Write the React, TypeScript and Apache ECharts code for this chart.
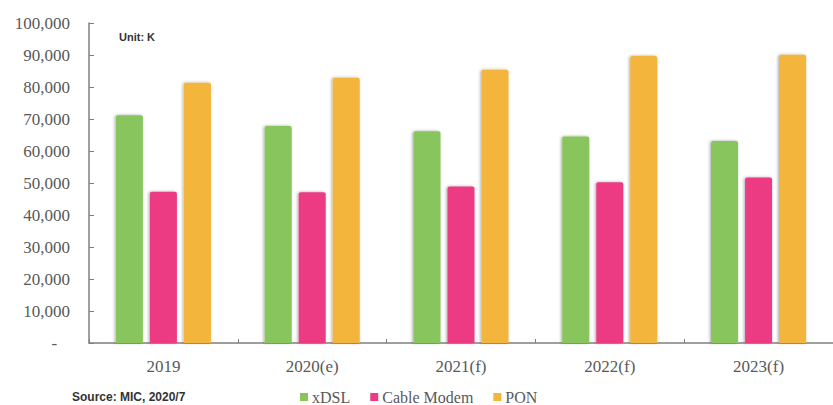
import React, { useEffect, useRef } from "react";
import * as echarts from "echarts";

const categories = ["2019", "2020(e)", "2021(f)", "2022(f)", "2023(f)"];
const xdsl = [71200, 67800, 66200, 64500, 63100];
const cableModem = [47300, 47100, 48900, 50200, 51700];
const pon = [81300, 82900, 85400, 89700, 90100];
const seriesNames = ["xDSL", "Cable Modem", "PON"];
const colors = ["#88C55B", "#EC3B82", "#F3B53A"];

export default function App() {
  const ref = useRef<HTMLDivElement>(null);
  useEffect(() => {
    document.body.style.margin = "0";
    const chart = echarts.init(ref.current!, null, { renderer: "svg" });
    const serif = "'Liberation Serif', 'Times New Roman', serif";
    const barStyle = (c: string) => ({
      color: c,
      borderRadius: [2, 2, 0, 0],
      shadowColor: "rgba(0,0,0,0.35)",
      shadowBlur: 3,
      shadowOffsetX: -1,
    });
    const datasets = [xdsl, cableModem, pon];
    chart.setOption({
      animation: false,
      backgroundColor: "#ffffff",
      grid: { left: 89, top: 23, width: 753, height: 320 },
      legend: {
        left: 300,
        top: 389,
        padding: 0,
        itemWidth: 8,
        itemHeight: 8,
        itemGap: 20,
        icon: "rect",
        data: seriesNames,
        textStyle: {
          fontFamily: serif,
          fontSize: 16,
          lineHeight: 14,
          color: "#595959",
          padding: [0, 0, 0, -1],
        },
      },
      xAxis: {
        type: "category",
        data: categories,
        axisLine: { lineStyle: { color: "#7f7f7f", width: 1.5 } },
        axisTick: { show: true, inside: true, length: 4, lineStyle: { color: "#7f7f7f" } },
        axisLabel: { fontFamily: serif, fontSize: 17, color: "#595959", margin: 15 },
      },
      yAxis: {
        type: "value",
        min: 0,
        max: 100000,
        interval: 10000,
        splitLine: { show: false },
        axisLine: { show: true, lineStyle: { color: "#7f7f7f", width: 1.5 } },
        axisTick: { show: true, inside: true, length: 5, lineStyle: { color: "#7f7f7f" } },
        axisLabel: {
          fontFamily: serif,
          fontSize: 17,
          color: "#595959",
          margin: 19,
          formatter: (v: number) =>
            v === 0 ? "-\u00a0\u00a0\u00a0" : v.toLocaleString("en-US"),
        },
      },
      series: seriesNames.map((name, i) => ({
        name,
        type: "bar",
        data: datasets[i],
        barWidth: 27,
        barGap: "26%",
        itemStyle: barStyle(colors[i]),
      })),
      graphic: [
        {
          type: "text",
          left: 119,
          top: 31,
          style: {
            text: "Unit: K",
            font: "bold 11px 'Liberation Sans', Arial, sans-serif",
            fill: "#333333",
          },
        },
        {
          type: "text",
          left: 72,
          top: 391,
          style: {
            text: "Source: MIC, 2020/7",
            font: "bold 12px 'Liberation Sans', Arial, sans-serif",
            fill: "#333333",
          },
        },
      ],
    });
    return () => chart.dispose();
  }, []);
  return <div ref={ref} style={{ width: 833, height: 405 }} />;
}
